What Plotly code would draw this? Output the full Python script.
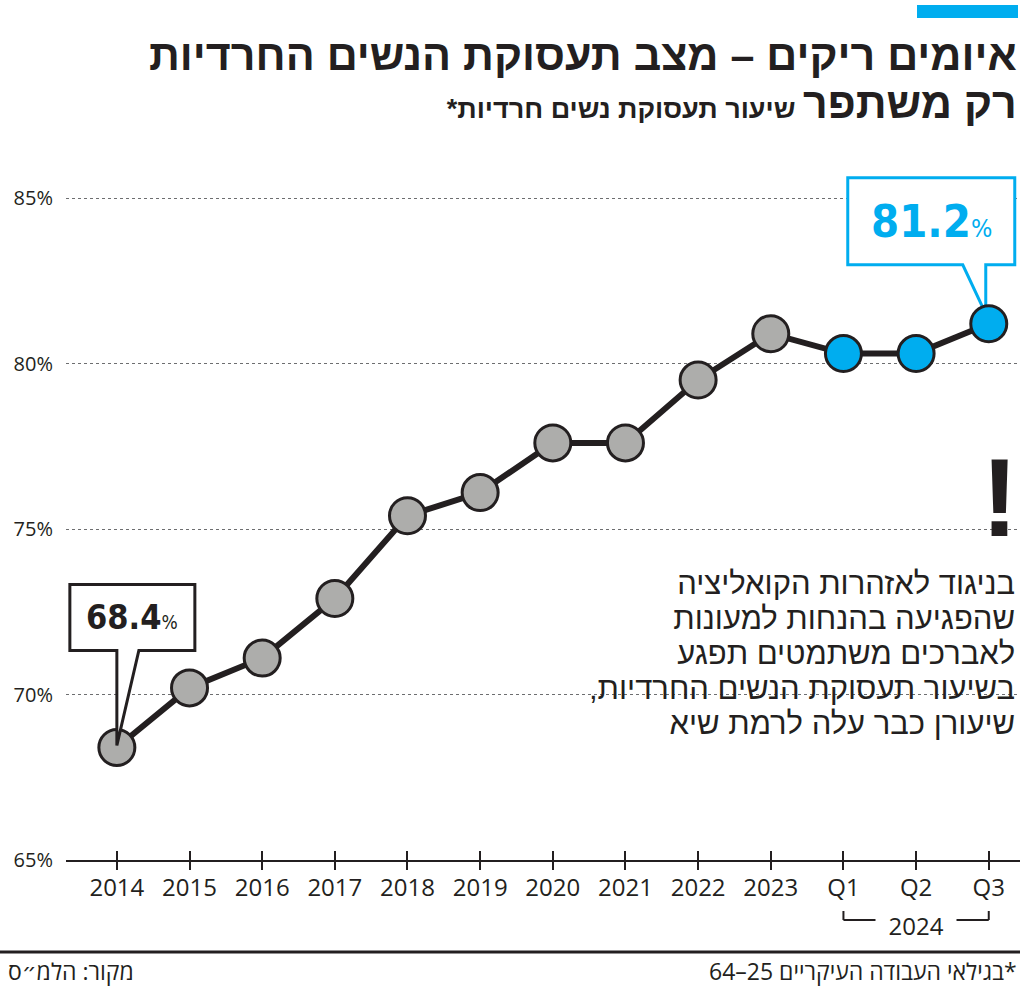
import plotly.graph_objects as go

# ---------------- data ----------------
categories = ["2014", "2015", "2016", "2017", "2018", "2019", "2020",
              "2021", "2022", "2023", "Q1", "Q2", "Q3"]
values = [68.4, 70.2, 71.1, 72.9, 75.4, 76.1, 77.6, 77.6, 79.5, 80.9, 80.3, 80.3, 81.2]
quarter_year = "2024"
y_ticks = [65, 70, 75, 80, 85]
y_tick_labels = [f"{v}%" for v in y_ticks]

title_line1 = "איומים ריקים – מצב תעסוקת הנשים החרדיות"
title_line2 = "רק משתפר"
subtitle = "שיעור תעסוקת נשים חרדיות*"
note_lines = ["בניגוד לאזהרות הקואליציה",
              "שהפגיעה בהנחות למעונות",
              "לאברכים משתמטים תפגע",
              "בשיעור תעסוקת הנשים החרדיות,",
              "שיעורן כבר עלה לרמת שיא"]
source_text = "מקור: הלמ״ס"
footnote_text = "*בגילאי העבודה העיקריים 25–64"

# ---------------- style ----------------
W, H = 1024, 989
DARK = "#231f20"
GRAY = "#adadab"
BLUE = "#00adef"
FONT = "Open Sans, DejaVu Sans, sans-serif"
TITLEFONT = "Liberation Sans, DejaVu Sans, sans-serif"
NOTEFONT = "Liberation Sans, DejaVu Sans, sans-serif"
NUMFONT = "Liberation Sans Narrow, DejaVu Sans Condensed, Arial Narrow, sans-serif"
RLE, PDF = "\u202b", "\u202c"


def rtl(s):
    return RLE + s + PDF


def px(x):
    return x / W


def py(y):
    return 1 - y / H


idx = {c: i for i, c in enumerate(categories)}
first_i, last_i = 0, len(categories) - 1
marker_colors = [BLUE if c.startswith("Q") else GRAY for c in categories]
q_idx = [idx[c] for c in categories if c.startswith("Q")]

fig = go.Figure()
# helper trace so the overlaid tick axis is drawn
fig.add_trace(go.Scatter(x=categories, y=values, xaxis="x2", mode="markers",
                         marker=dict(opacity=0), hoverinfo="skip", showlegend=False))
fig.add_trace(go.Scatter(
    x=categories, y=values, mode="lines+markers",
    line=dict(color=DARK, width=6),
    marker=dict(size=36, color=marker_colors, line=dict(color=DARK, width=3)),
    showlegend=False, hoverinfo="skip", cliponaxis=False))

plot_top_px, plot_bot_px = 150, 860
px_per_unit = (860 - 198) / 20.0
y_top = 65 + (plot_bot_px - plot_top_px) / px_per_unit

xdom = [px(66), px(1020)]
xr = [-0.70, 12.43]

fig.update_layout(
    width=W, height=H, autosize=False,
    margin=dict(l=0, r=0, t=0, b=0, pad=0, autoexpand=False),
    paper_bgcolor="white", plot_bgcolor="white",
    xaxis=dict(domain=xdom, range=xr, type="category", categoryarray=categories,
               showline=True, linecolor=DARK, linewidth=2,
               ticks="inside", ticklen=9, tickwidth=2, tickcolor=DARK,
               tickfont=dict(family=FONT, size=24, color=DARK),
               ticklabelstandoff=5, automargin=False,
               showgrid=False, zeroline=False, anchor="y"),
    xaxis2=dict(domain=xdom, range=xr, type="category", categoryarray=categories,
                overlaying="x", anchor="y", side="bottom",
                ticks="outside", ticklen=9, tickwidth=2, tickcolor=DARK,
                showticklabels=False, showline=False, showgrid=False, zeroline=False),
    yaxis=dict(domain=[py(plot_bot_px), py(plot_top_px)], range=[65, y_top],
               tickmode="array", tickvals=y_ticks, ticktext=y_tick_labels,
               tickfont=dict(family=FONT, size=20, color=DARK),
               ticklabelstandoff=12, automargin=False,
               showgrid=True, griddash="dot", gridcolor="#6d6e70", gridwidth=1,
               showline=False, zeroline=False, ticks=""),
)

shapes = []
# accent bar
shapes.append(dict(type="rect", xref="paper", yref="paper",
                   x0=px(917), x1=px(1018), y0=py(18), y1=py(5),
                   fillcolor=BLUE, line=dict(width=0)))
# bottom rule
shapes.append(dict(type="line", xref="paper", yref="paper",
                   x0=0, x1=px(1020), y0=py(952), y1=py(952),
                   line=dict(color=DARK, width=3)))
# callout for first value (black)
shapes.append(dict(type="path", xref="x", yref="y",
                   xsizemode="pixel", ysizemode="pixel",
                   xanchor=first_i, yanchor=values[first_i],
                   path="M 0 97 L -47 97 L -47 163 L 78 163 L 78 97 L 22 97 L 0 2 Z",
                   fillcolor="white", line=dict(color=DARK, width=3), layer="above"))
# callout for last value (blue)
shapes.append(dict(type="path", xref="x", yref="y",
                   xsizemode="pixel", ysizemode="pixel",
                   xanchor=last_i, yanchor=values[last_i],
                   path="M -3 59 L -3 10 L -26 59 L -141 59 L -141 146 L 26 146 L 26 59 Z",
                   fillcolor="white", line=dict(color=BLUE, width=3), layer="between"))
# year bracket under quarters
shapes.append(dict(type="line", xref="x", yref="paper",
                   x0=q_idx[0], x1=q_idx[-1], y0=py(920), y1=py(920),
                   line=dict(color=DARK, width=2)))
for qi in (q_idx[0], q_idx[-1]):
    shapes.append(dict(type="line", xref="x", yref="paper",
                       x0=qi, x1=qi, y0=py(920), y1=py(911),
                       line=dict(color=DARK, width=2)))
fig.update_layout(shapes=shapes)

ann = []
# title (two lines, second line carries the subtitle)
title_text = ("<span style='font-size:43px'>" + rtl(title_line1) + "</span><br>" +
              "<span style='font-size:43px'>" + RLE + title_line2 +
              "<span style='font-size:27px'> " + subtitle + PDF + "</span></span>")
ann.append(dict(xref="paper", yref="paper", x=px(1019), y=py(29), xanchor="right", yanchor="top",
                text=title_text, showarrow=False, align="right",
                font=dict(family=TITLEFONT, size=37, weight=700, color=DARK)))
# callout values
ann.append(dict(xref="x", yref="y", x=first_i, y=values[first_i], xshift=15.5, yshift=130,
                xanchor="center", yanchor="middle", showarrow=False,
                text=f"<b>{values[first_i]:.1f}</b><span style='font-size:19px'>%</span>",
                font=dict(family=NUMFONT, size=34, color=DARK)))
ann.append(dict(xref="x", yref="y", x=last_i, y=values[last_i], xshift=-57.5, yshift=102.5,
                xanchor="center", yanchor="middle", showarrow=False,
                text=f"<b>{values[last_i]:.1f}</b><span style='font-size:25px'>%</span>",
                font=dict(family=NUMFONT, size=45, color=BLUE)))
# year under quarters
ann.append(dict(xref="x", yref="paper", x=q_idx[len(q_idx) // 2], y=py(925),
                xanchor="center", yanchor="middle", showarrow=False,
                text="\u00a0\u00a0" + quarter_year + "\u00a0\u00a0", bgcolor="white", borderpad=0,
                font=dict(family=FONT, size=24, color=DARK)))
# exclamation
ann.append(dict(xref="paper", yref="paper", x=px(1020), y=py(562), xanchor="right", yanchor="bottom",
                text="!", showarrow=False,
                font=dict(family=TITLEFONT, size=112, weight=700, color=DARK)))
# note block
ann.append(dict(xref="paper", yref="paper", x=px(1017), y=py(564),
                xanchor="right", yanchor="top", showarrow=False, align="right",
                text="<br>".join("<span style='font-size:31px'>" + rtl(l) + "</span>" for l in note_lines),
                font=dict(family=NOTEFONT, size=27, color=DARK)))
# footer
ann.append(dict(xref="paper", yref="paper", x=px(6), y=py(971), xanchor="left", yanchor="middle",
                text=rtl(source_text), showarrow=False,
                font=dict(family=FONT, size=23, color=DARK)))
ann.append(dict(xref="paper", yref="paper", x=px(1019), y=py(971), xanchor="right", yanchor="middle",
                text=rtl(footnote_text), showarrow=False,
                font=dict(family=FONT, size=23, color=DARK)))
fig.update_layout(annotations=ann)

fig.write_html("out.html")
